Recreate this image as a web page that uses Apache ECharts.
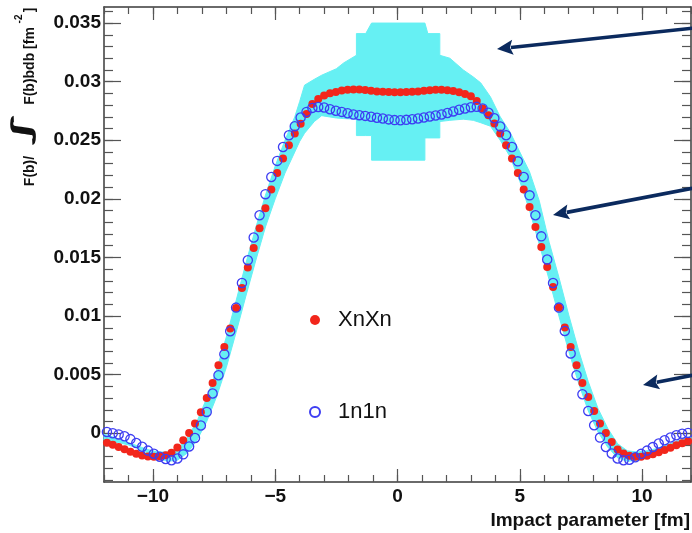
<!DOCTYPE html>
<html>
<head>
<meta charset="utf-8">
<script src="https://cdn.jsdelivr.net/npm/echarts@6/dist/echarts.min.js"></script>
<style>
html,body{margin:0;padding:0;background:#fff;}
#chart{width:692px;height:533px;}
</style>
</head>
<body>
<div id="chart"></div>
<script>
// ---- data ----
const bValues = [-11.88,-11.64,-11.40,-11.16,-10.92,-10.68,-10.44,-10.20,-9.96,-9.72,-9.48,-9.24,-9.00,-8.76,-8.52,-8.28,-8.04,-7.80,-7.56,-7.32,-7.08,-6.84,-6.60,-6.36,-6.12,-5.88,-5.64,-5.40,-5.16,-4.92,-4.68,-4.44,-4.20,-3.96,-3.72,-3.48,-3.24,-3.00,-2.76,-2.52,-2.28,-2.04,-1.80,-1.56,-1.32,-1.08,-0.84,-0.60,-0.36,-0.12,
  0.12,0.36,0.60,0.84,1.08,1.32,1.56,1.80,2.04,2.28,2.52,2.76,3.00,3.24,3.48,3.72,3.96,4.20,4.44,4.68,4.92,5.16,5.40,5.64,5.88,6.12,6.36,6.60,6.84,7.08,7.32,7.56,7.80,8.04,8.28,8.52,8.76,9.00,9.24,9.48,9.72,9.96,10.20,10.44,10.68,10.92,11.16,11.40,11.64,11.88];

const xnxnValues = [-0.00082,-0.00098,-0.00118,-0.00137,-0.00157,-0.00175,-0.00189,-0.00198,-0.00201,-0.00199,-0.00188,-0.00166,-0.00122,-0.0006,0.00003,0.00083,0.0018,0.00301,0.00429,0.0058,0.00736,0.00893,0.01068,0.0124,0.01415,0.0158,0.0175,0.0192,0.0208,0.0222,0.02344,0.02457,0.02557,0.0264,0.02725,0.0281,0.02852,0.02882,0.029,0.02912,0.02924,0.0293,0.02933,0.02932,0.02928,0.02922,0.02917,0.02913,0.02911,0.0291,
  0.0291,0.02911,0.02913,0.02917,0.02922,0.02927,0.0293,0.0293,0.02926,0.0292,0.0291,0.02895,0.02875,0.02835,0.02772,0.02713,0.02642,0.02557,0.02457,0.02344,0.02221,0.02079,0.0193,0.0176,0.0159,0.01419,0.01248,0.01072,0.00902,0.00736,0.0058,0.00429,0.0031,0.0019,0.00083,0.00003,-0.00074,-0.00139,-0.00173,-0.00192,-0.002,-0.002,-0.00192,-0.0018,-0.00162,-0.00143,-0.00123,-0.00103,-0.00085,-0.00068];

const n1n1Values = [0.0001,0.0,-0.0001,-0.00026,-0.0005,-0.00083,-0.00115,-0.00148,-0.00175,-0.002,-0.0022,-0.0023,-0.00216,-0.0018,-0.00113,-0.0004,0.00066,0.00182,0.00339,0.00495,0.00674,0.0087,0.01072,0.01282,0.01476,0.0167,0.0186,0.0204,0.02187,0.02324,0.02443,0.02543,0.0262,0.02694,0.02742,0.02776,0.02784,0.02779,0.02765,0.02752,0.02742,0.0273,0.0272,0.02714,0.02708,0.027,0.02692,0.02685,0.02678,0.02672,
  0.02671,0.02674,0.02679,0.02686,0.02694,0.02703,0.02711,0.0272,0.02732,0.02746,0.0276,0.02771,0.02781,0.02785,0.02772,0.02735,0.02688,0.02618,0.02543,0.02443,0.0232,0.02187,0.0203,0.0186,0.0168,0.01482,0.01282,0.01072,0.00873,0.0068,0.00495,0.00333,0.0019,0.00068,-0.00037,-0.00117,-0.00173,-0.00216,-0.0023,-0.00226,-0.00205,-0.00176,-0.00148,-0.00118,-0.00088,-0.0006,-0.00036,-0.00017,-0.00004,0.00003];

const bandX = [-12.0,-11.8,-11.4,-11.0,-10.6,-10.2,-9.8,-9.4,-9.0,-8.6,-8.2,-7.8,-7.4,-7.0,-6.6,-6.2,-5.8,-5.4,-5.0,-4.6,-4.2,-4.0,-3.8,-3.4,-3.1,-2.5,-2.2,-1.68,-1.68,-1.3,-1.06,-1.06,1.12,1.12,1.24,1.73,1.73,2.14,2.69,3.1,3.4,3.8,4.2,4.6,5.0,5.4,5.8,6.2,6.6,7.0,7.4,7.8,8.2,8.6,9.0,9.4,9.8,10.2,10.6,11.0,11.4,11.8,12.0];
const bandLow = [-0.0006,-0.0007,-0.0008,-0.0010,-0.0013,-0.0017,-0.0021,-0.0024,-0.0023,-0.0017,-0.0006,0.0010,0.0031,0.0056,0.0086,0.0117,0.0147,0.0176,0.0200,0.0222,0.0240,0.0249,0.0256,0.0266,0.0271,0.0269,0.02685,0.0268,0.0254,0.0254,0.0254,0.0233,0.0233,0.0252,0.0252,0.0252,0.0266,0.0267,0.0268,0.0267,0.0265,0.0262,0.0250,0.0236,0.0215,0.0190,0.0161,0.0131,0.0100,0.0070,0.0043,0.0019,0.0001,-0.0012,-0.0021,-0.0024,-0.0023,-0.0020,-0.0016,-0.0012,-0.0009,-0.0007,-0.0006];
const bandHigh = [-0.0001,-0.0002,-0.0005,-0.0008,-0.0011,-0.0014,-0.0016,-0.0016,-0.0014,-0.0004,0.0010,0.0030,0.0054,0.0082,0.0113,0.0145,0.0175,0.0203,0.0228,0.0250,0.0270,0.0283,0.0297,0.0302,0.03055,0.0311,0.0316,0.03225,0.0341,0.0341,0.0350,0.0350,0.0350,0.0350,0.0341,0.0341,0.03225,0.0320,0.0310,0.0304,0.0299,0.0287,0.0270,0.0257,0.0240,0.0223,0.0198,0.0163,0.0133,0.0101,0.0071,0.0044,0.0021,0.0004,-0.0009,-0.0015,-0.0016,-0.0015,-0.0013,-0.0010,-0.0007,-0.0004,-0.0003];

const xTickValues = [-10, -5, 0, 5, 10];
const xTickLabels = ['\u221210', '\u22125', '0', '5', '10'];
const yTickValues = [0, 0.005, 0.01, 0.015, 0.02, 0.025, 0.03, 0.035];
const yTickLabels = ['0', '0.005', '0.01', '0.015', '0.02', '0.025', '0.03', '0.035'];
const seriesNames = ['XnXn', '1n1n'];

// ---- axis scaffolding ----
const X_MIN = -12, X_MAX = 12;
const Y_MIN = -0.00416, Y_MAX = 0.03637;
const xMinorTicks = []; for (let v = -12; v <= 12; v++) xMinorTicks.push(v);
const yMinorTicks = []; for (let k = -4; k <= 36; k++) yMinorTicks.push(k / 1000);

const FONT = 'Liberation Sans, Arial, Helvetica, sans-serif';
const RED = '#f2261b';
const BLUE = '#3d3df2';
const CYAN = '#66f0f3';
const FRAME = '#3a3a3a';
const NAVY = '#0b2a5e';

function lookup(vals, labels, v) {
  for (let i = 0; i < vals.length; i++) if (Math.abs(vals[i] - v) < 1e-9) return labels[i];
  return '';
}

function xAxisDef(position, showLine, ticks, len, withLabels) {
  return {
    type: 'value', min: X_MIN, max: X_MAX, position: position,
    axisLine: { show: showLine, onZero: false, lineStyle: { color: FRAME, width: 1.5 } },
    axisTick: { show: true, inside: true, length: len, customValues: ticks, lineStyle: { color: '#555', width: 1.2 } },
    axisLabel: withLabels ? {
      show: true, customValues: xTickValues, margin: 5,
      fontFamily: FONT, fontSize: 19, fontWeight: 'bold', color: '#111',
      formatter: v => lookup(xTickValues, xTickLabels, v)
    } : { show: false },
    splitLine: { show: false }
  };
}
function yAxisDef(position, showLine, ticks, len, withLabels) {
  return {
    type: 'value', min: Y_MIN, max: Y_MAX, position: position,
    axisLine: { show: showLine, onZero: false, lineStyle: { color: FRAME, width: 1.5 } },
    axisTick: { show: true, inside: true, length: len, customValues: ticks, lineStyle: { color: '#555', width: 1.2 } },
    axisLabel: withLabels ? {
      show: true, customValues: yTickValues, margin: 3,
      fontFamily: FONT, fontSize: 19, fontWeight: 'bold', color: '#111',
      formatter: v => lookup(yTickValues, yTickLabels, v)
    } : { show: false },
    splitLine: { show: false }
  };
}

// arrows (annotation positions in pixels)
const arrows = [
  { from: [694, 28], to: [497, 49] },
  { from: [694, 188], to: [553, 215] },
  { from: [694, 375], to: [643, 385] }
];
const arrowGraphics = [];
arrows.forEach(a => {
  const dx = a.to[0] - a.from[0], dy = a.to[1] - a.from[1];
  const L = Math.sqrt(dx * dx + dy * dy);
  const ux = dx / L, uy = dy / L;
  const headLen = 16, headHalf = 7.5;
  const bx = a.to[0] - ux * headLen, by = a.to[1] - uy * headLen;
  arrowGraphics.push({
    type: 'line', z: 100,
    shape: { x1: a.from[0], y1: a.from[1], x2: bx + ux * 2, y2: by + uy * 2 },
    style: { stroke: NAVY, lineWidth: 3.6 }
  });
  arrowGraphics.push({
    type: 'polygon', z: 100,
    shape: { points: [[a.to[0], a.to[1]], [bx - uy * headHalf, by + ux * headHalf], [bx + ux * 3, by + uy * 3], [bx + uy * headHalf, by - ux * headHalf]] },
    style: { fill: NAVY }
  });
});

const chart = echarts.init(document.getElementById('chart'), null, { renderer: 'canvas' });
const option = {
  animation: false,
  backgroundColor: '#fff',
  grid: { left: 104, right: 1, top: 7, bottom: 51, containLabel: false },
  xAxis: [
    xAxisDef('bottom', true, xTickValues, 13, true),
    xAxisDef('bottom', false, xMinorTicks, 7, false),
    xAxisDef('top', true, xTickValues, 13, false),
    xAxisDef('top', false, xMinorTicks, 7, false)
  ],
  yAxis: [
    yAxisDef('left', true, yTickValues, 17, true),
    yAxisDef('left', false, yMinorTicks, 9, false),
    yAxisDef('right', true, yTickValues, 17, false),
    yAxisDef('right', false, yMinorTicks, 9, false)
  ],
  legend: {
    orient: 'vertical', left: 304, top: 303, itemGap: 68,
    itemWidth: 10, itemHeight: 10,
    textStyle: { fontFamily: FONT, fontSize: 22, color: '#111', lineHeight: 24, padding: [0, 0, 0, 13] },
    data: [
      { name: seriesNames[0], icon: 'circle' },
      { name: seriesNames[1], icon: 'circle' }
    ]
  },
  series: [
    {
      type: 'custom', name: 'band', xAxisIndex: 0, yAxisIndex: 0, z: 1, silent: true,
      data: [[0, 0]],
      renderItem: function (params, api) {
        const pts = [];
        for (let i = 0; i < bandX.length; i++) pts.push(api.coord([bandX[i], bandHigh[i]]));
        for (let i = bandX.length - 1; i >= 0; i--) pts.push(api.coord([bandX[i], bandLow[i]]));
        return { type: 'polygon', shape: { points: pts }, style: { fill: CYAN, stroke: CYAN, lineWidth: 1 } };
      }
    },
    {
      type: 'scatter', name: seriesNames[0], xAxisIndex: 0, yAxisIndex: 0, z: 3,
      symbol: 'circle', symbolSize: 8,
      itemStyle: { color: RED, opacity: 1 },
      data: bValues.map((b, i) => [b, xnxnValues[i]])
    },
    {
      type: 'scatter', name: seriesNames[1], xAxisIndex: 0, yAxisIndex: 0, z: 4,
      symbol: 'circle', symbolSize: 9.2,
      itemStyle: { color: 'rgba(0,0,0,0)', borderColor: BLUE, borderWidth: 1.3, opacity: 1 },
      data: bValues.map((b, i) => [b, n1n1Values[i]])
    }
  ],
  graphic: [
    { type: 'text', x: 30, y: 171, rotation: Math.PI / 2, z: 50,
      style: { text: 'F(b)/', fontFamily: FONT, fontSize: 14, fontWeight: 'bold', fill: '#111', align: 'center', verticalAlign: 'middle' } },
    { type: 'text', x: 23, y: 129, rotation: Math.PI / 2, scaleX: 2.1, z: 50,
      style: { text: '\u222B', fontFamily: 'DejaVu Sans', fontSize: 26, fontStyle: 'italic', fontWeight: 'bold', fill: '#111', align: 'center', verticalAlign: 'middle' } },
    { type: 'text', x: 30, y: 66, rotation: Math.PI / 2, z: 50,
      style: { text: 'F(b)bdb [fm', fontFamily: FONT, fontSize: 14, fontWeight: 'bold', fill: '#111', align: 'center', verticalAlign: 'middle' } },
    { type: 'text', x: 19, y: 19, rotation: Math.PI / 2, z: 50,
      style: { text: '-2', fontFamily: FONT, fontSize: 10, fontWeight: 'bold', fill: '#111', align: 'center', verticalAlign: 'middle' } },
    { type: 'text', x: 30, y: 10, rotation: Math.PI / 2, z: 50,
      style: { text: ']', fontFamily: FONT, fontSize: 14, fontWeight: 'bold', fill: '#111', align: 'center', verticalAlign: 'middle' } },
    { type: 'text', x: 690, y: 521, z: 50,
      style: { text: 'Impact parameter [fm]', fontFamily: FONT, fontSize: 19, fontWeight: 'bold', fill: '#111', align: 'right', verticalAlign: 'middle' } }
  ].concat(arrowGraphics)
};
chart.setOption(option);
</script>
</body>
</html>
